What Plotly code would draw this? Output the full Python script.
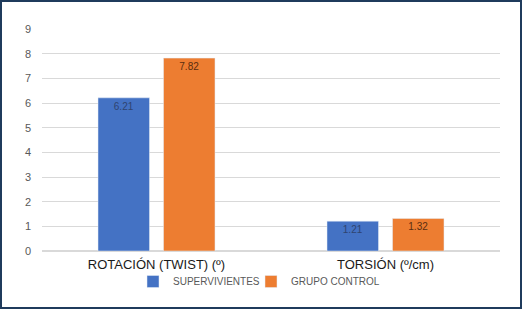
import plotly.graph_objects as go

categories = ["ROTACIÓN (TWIST) (º)", "TORSIÓN (º/cm)"]
supervivientes = [6.21, 1.21]
grupo_control = [7.82, 1.32]
series_names = ["SUPERVIVIENTES", "GRUPO CONTROL"]
y_ticks = [0, 1, 2, 3, 4, 5, 6, 7, 8, 9]

W, H = 522, 309
ML, MR, MT, MB = 42, 22, 29, 58
PW, PH = W - ML - MR, H - MT - MB

fig = go.Figure()
fig.add_trace(go.Bar(
    x=categories, y=supervivientes, name=series_names[0],
    marker=dict(color="#4472C4"), legend="legend",
    text=[f"{v:.2f}" for v in supervivientes], textposition="inside",
    insidetextanchor="end",
    textfont=dict(size=10, color="#2F4470", family="Liberation Sans"),
))
fig.add_trace(go.Bar(
    x=categories, y=grupo_control, name=series_names[1],
    marker=dict(color="#ED7D31"), legend="legend2",
    text=[f"{v:.2f}" for v in grupo_control], textposition="inside",
    insidetextanchor="end",
    textfont=dict(size=10, color="#5A2E10", family="Liberation Sans"),
))

def px_x(p):
    return (p - ML) / PW

def px_y(p):
    return (H - MB - p) / PH

fig.add_shape(type="rect", xref="paper", yref="paper",
              x0=px_x(1), x1=px_x(W - 1), y0=px_y(H - 1), y1=px_y(1),
              line=dict(color="#1F3B5C", width=2), fillcolor="rgba(0,0,0,0)")

legend_style = dict(orientation="h", xanchor="left", yanchor="top", y=px_y(267),
                    bgcolor="rgba(0,0,0,0)", itemwidth=30,
                    font=dict(size=10, color="#595959", family="Liberation Sans"))

fig.update_layout(
    width=W, height=H,
    margin=dict(l=ML, r=MR, t=MT, b=MB),
    paper_bgcolor="white", plot_bgcolor="white",
    barmode="group", bargap=0.428, bargroupgap=0.214,
    showlegend=True,
    legend=dict(x=px_x(133), **legend_style),
    legend2=dict(x=px_x(251), **legend_style),
    font=dict(family="Liberation Sans"),
)
fig.update_xaxes(showgrid=False, showline=False, ticks="", ticklabelstandoff=4,
                 tickfont=dict(size=13, color="#1A1A1A", family="Liberation Sans"))
fig.update_yaxes(range=[0, 9], tickvals=y_ticks, showgrid=True, gridcolor="#D9D9D9",
                 gridwidth=1, zeroline=True, zerolinecolor="#D9D9D9", showline=False,
                 ticks="", ticklabelstandoff=10,
                 tickfont=dict(size=11, color="#595959", family="Liberation Sans"))

fig.write_html("out.html", config={"displayModeBar": False},
               post_script="document.body.style.margin='0';")
